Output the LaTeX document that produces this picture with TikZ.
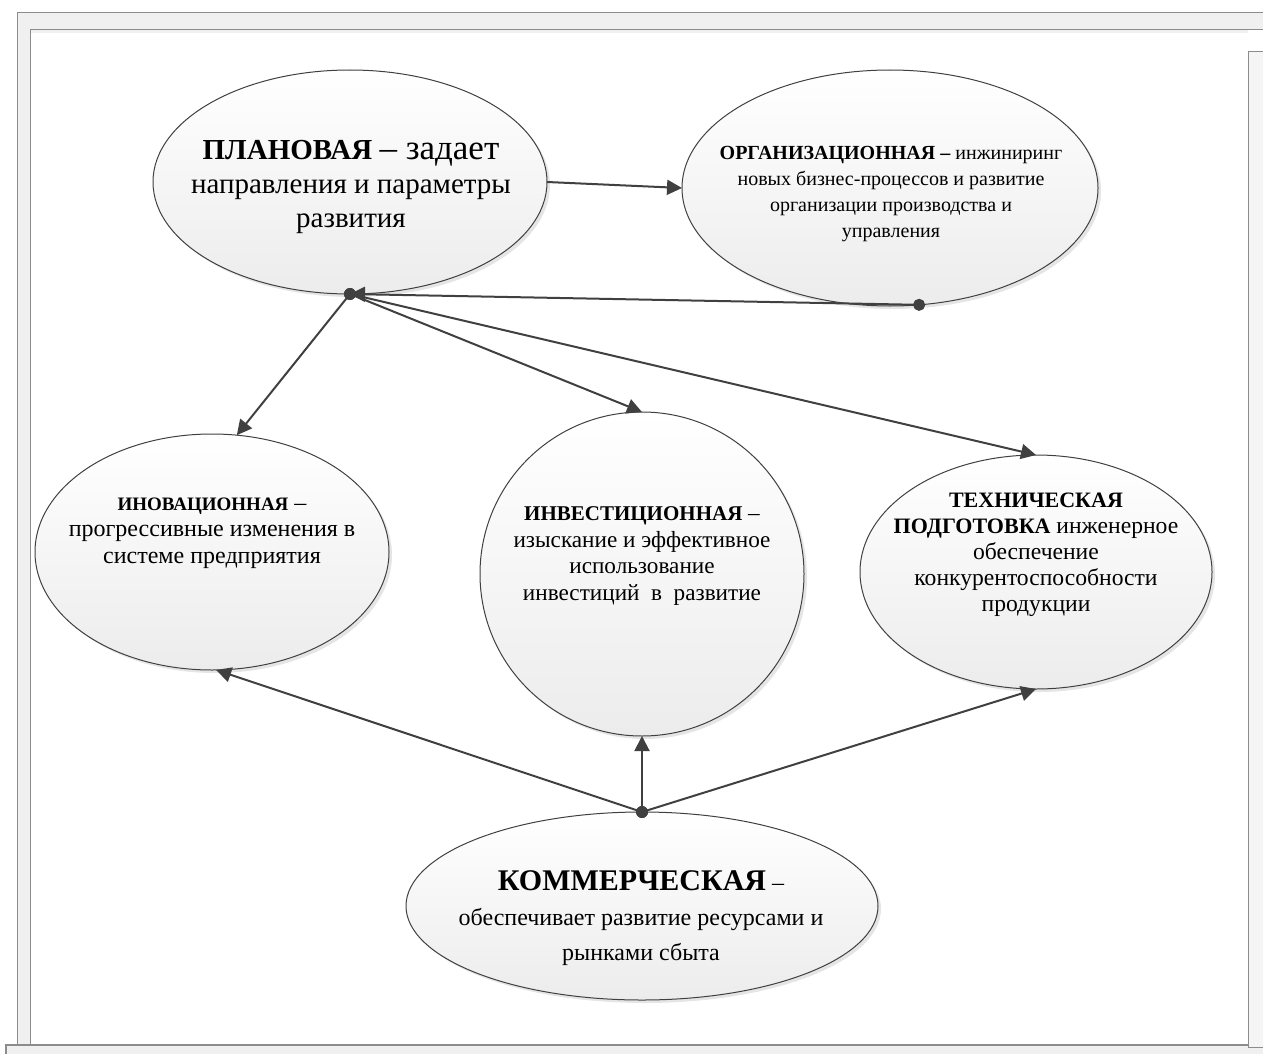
\documentclass[tikz,border=0pt]{standalone}
\usepackage{fontspec}
\setmainfont{Liberation Serif}
\usepackage{tikz}
\usetikzlibrary{shapes.geometric, arrows.meta, shadows}
\definecolor{linegray}{HTML}{404040}
\definecolor{framegray}{HTML}{8C8C8C}
\definecolor{framebg}{HTML}{F0F0F0}
\definecolor{blobbot}{HTML}{ECECEC}

\begin{document}
\begin{tikzpicture}[x=0.5pt, y=-0.5pt,
    blob/.style={ellipse, draw=linegray, line width=0.5pt, inner sep=0pt, outer sep=0pt, top color=white, bottom color=blobbot,
      drop shadow={shadow xshift=1.5pt, shadow yshift=-1.5pt, fill=black!25, opacity=0.4}},
    txt/.style={align=center, inner sep=0pt},
    arrow/.style={-{Triangle[length=7.5pt, width=7.5pt]}, line width=1pt, color=linegray},
    dotarrow/.style={{Circle[length=6pt]}-{Triangle[length=7.5pt, width=7.5pt]}, shorten <=-3pt, line width=1pt, color=linegray}
]
\useasboundingbox (0,0) rectangle (1263,1054);

% page frame
\fill[framebg] (17,12) rectangle (1270,29);
\fill[black!6] (30,29) rectangle (1248,33);
\fill[framebg] (17,29) rectangle (30,1045);
\fill[framebg] (6,1045) rectangle (1270,1060);
\fill[black!4] (1248,51) rectangle (1270,1047);
\draw[framegray] (17,1045) -- (17,12) -- (1270,12);
\draw[framegray] (30,1045) -- (30,29) -- (1270,29);
\draw[framegray, line width=1pt] (6,1060) -- (6,1045) -- (1248,1045);
\draw[framegray] (1270,51) -- (1248,51) -- (1248,1047) -- (1270,1047);

% ellipses
\node[blob, minimum width=197pt, minimum height=112pt] (plan) at (350,182) {};
\node[blob, minimum width=208pt, minimum height=118pt] (org) at (890,188) {};
\node[blob, minimum width=177pt, minimum height=118pt] (inov) at (212,552) {};
\node[blob, minimum width=162pt, minimum height=162pt] (inv) at (642,574) {};
\node[blob, minimum width=176pt, minimum height=117pt] (tech) at (1036,572) {};
\node[blob, minimum width=236pt, minimum height=94pt] (comm) at (642,906) {};

% texts
\node[txt, font=\fontsize{14.5}{17}\selectfont] (plan-t) at (351,187)
  {\textbf{ПЛАНОВАЯ} {\fontsize{17.5}{17}\selectfont – задает}\\направления и параметры\\развития};
\node[txt, font=\fontsize{10}{13}\selectfont] (org-t) at (891,194)
  {\textbf{ОРГАНИЗАЦИОННАЯ –} инжиниринг\\новых бизнес-процессов и развитие\\организации производства и\\управления};
\node[txt, font=\fontsize{12}{13.3}\selectfont] (inov-t) at (212,533)
  {{\fontsize{9.5}{13.3}\selectfont\bfseries ИНОВАЦИОННАЯ} –\\прогрессивные изменения в\\системе предприятия};
\node[txt, font=\fontsize{11.6}{13.3}\selectfont] (inv-t) at (642,556)
  {{\fontsize{10.5}{13.3}\selectfont\bfseries ИНВЕСТИЦИОННАЯ} –\\изыскание и эффективное\\использование\\инвестиций\ \ в\ \ развитие};
\node[txt, font=\fontsize{11.8}{13}\selectfont] (tech-t) at (1036,555)
  {{\fontsize{11}{13}\selectfont\bfseries ТЕХНИЧЕСКАЯ}\\{\fontsize{11}{13}\selectfont\bfseries ПОДГОТОВКА} инженерное\\обеспечение\\конкурентоспособности\\продукции};
\node[txt, font=\fontsize{12}{17.5}\selectfont] (comm-t) at (641,918)
  {{\fontsize{15}{17.5}\selectfont\bfseries КОММЕРЧЕСКАЯ} –\\обеспечивает развитие ресурсами и\\рынками сбыта};

% connectors
\draw[arrow] (plan.east) -- (org.west);
\draw[dotarrow] (org.-76) -- (plan.south);
\draw[dotarrow] (plan.south) -- (inov.78);
\draw[dotarrow] (plan.south) -- (inv.north);
\draw[dotarrow] (plan.south) -- (tech.north);
\draw[dotarrow] (comm.north) -- (inov.-88);
\draw[dotarrow] (comm.north) -- (inv.south);
\draw[dotarrow] (comm.north) -- (tech.south);

\end{tikzpicture}
\end{document}
